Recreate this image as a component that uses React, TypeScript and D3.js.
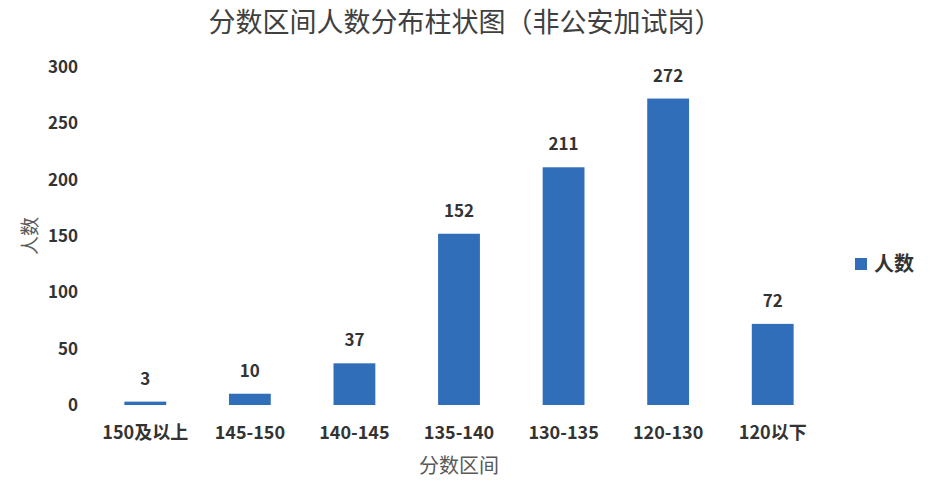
import { useEffect, useRef } from 'react';
import * as d3 from 'd3';

const categories = ['150及以上', '145-150', '140-145', '135-140', '130-135', '120-130', '120以下'];
const counts = [3, 10, 37, 152, 211, 272, 72];
const yTicks = [0, 50, 100, 150, 200, 250, 300];

const W = 930;
const H = 487;
const font = '"Noto Sans CJK SC", "Noto Sans", sans-serif';

export default function App() {
  const svgRef = useRef<SVGSVGElement>(null);

  useEffect(() => {
    if (!svgRef.current) return;
    const svg = d3.select(svgRef.current);
    svg.selectAll('*').remove();

    const margin = { top: 67, right: 105, bottom: 82, left: 93 };

    const x = d3.scaleBand<string>()
      .domain(categories)
      .range([margin.left, W - margin.right])
      .paddingInner(0.6)
      .paddingOuter(0.3);

    const y = d3.scaleLinear()
      .domain([0, 300])
      .range([H - margin.bottom, margin.top]);

    // Title
    svg.append('text')
      .attr('x', 465)
      .attr('y', 32)
      .attr('text-anchor', 'middle')
      .attr('fill', '#404040')
      .style('font-family', font)
      .style('font-size', '27px')
      .text('分数区间人数分布柱状图（非公安加试岗）');

    // Y tick labels
    svg.append('g')
      .selectAll('text')
      .data(yTicks)
      .join('text')
      .attr('x', 78)
      .attr('y', d => y(d))
      .attr('dy', '0.35em')
      .attr('text-anchor', 'end')
      .attr('fill', '#333')
      .style('font-family', font)
      .style('font-size', '17px')
      .style('font-weight', 'bold')
      .text(d => d);

    // Bars
    svg.append('g')
      .selectAll('rect')
      .data(counts)
      .join('rect')
      .attr('x', (_, i) => x(categories[i]) || 0)
      .attr('y', d => y(d))
      .attr('width', x.bandwidth())
      .attr('height', d => y(0) - y(d))
      .attr('fill', '#316EBA');

    // Value labels
    svg.append('g')
      .selectAll('text')
      .data(counts)
      .join('text')
      .attr('x', (_, i) => (x(categories[i]) || 0) + x.bandwidth() / 2)
      .attr('y', d => y(d) - 17)
      .attr('text-anchor', 'middle')
      .attr('fill', '#333')
      .style('font-family', font)
      .style('font-size', '17px')
      .style('font-weight', 'bold')
      .text(d => d);

    // X category labels
    svg.append('g')
      .selectAll('text')
      .data(categories)
      .join('text')
      .attr('x', d => (x(d) || 0) + x.bandwidth() / 2)
      .attr('y', 439)
      .attr('text-anchor', 'middle')
      .attr('fill', '#333')
      .style('font-family', font)
      .style('font-size', '18px')
      .style('font-weight', 'bold')
      .text(d => d);

    // Axis titles
    svg.append('text')
      .attr('x', (margin.left + W - margin.right) / 2)
      .attr('y', 473)
      .attr('text-anchor', 'middle')
      .attr('fill', '#595959')
      .style('font-family', font)
      .style('font-size', '20px')
      .text('分数区间');

    svg.append('text')
      .attr('transform', `translate(37, ${(y(0) + y(300)) / 2}) rotate(-90)`)
      .attr('text-anchor', 'middle')
      .attr('fill', '#595959')
      .style('font-family', font)
      .style('font-size', '19px')
      .text('人数');

    // Legend
    const legend = svg.append('g').attr('transform', 'translate(855, 264)');
    legend.append('rect')
      .attr('x', 0)
      .attr('y', -6)
      .attr('width', 12)
      .attr('height', 12)
      .attr('fill', '#316EBA');
    legend.append('text')
      .attr('x', 19)
      .attr('y', 0)
      .attr('dy', '0.35em')
      .attr('fill', '#333')
      .style('font-family', font)
      .style('font-size', '20px')
      .style('font-weight', 'bold')
      .text('人数');
  }, []);

  return (
    <svg
      ref={svgRef}
      width={W}
      height={H}
      style={{ position: 'absolute', left: 0, top: 0, background: '#fff' }}
    />
  );
}
